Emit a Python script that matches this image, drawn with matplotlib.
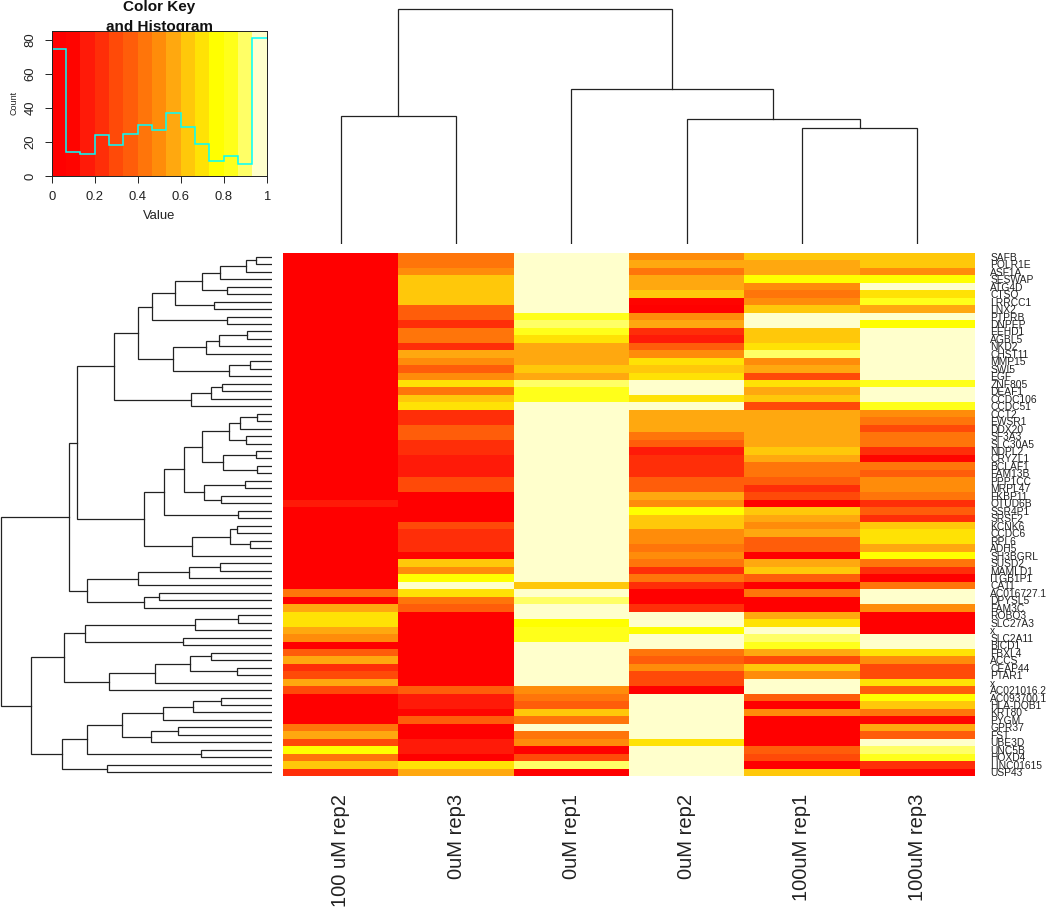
import numpy as np
import matplotlib
matplotlib.use('Agg')
import matplotlib.pyplot as plt
from matplotlib.colors import ListedColormap

plt.rcParams['font.family'] = ['Liberation Sans', 'DejaVu Sans']

# Colour levels of the key, low to high
heat_colors = ['#FF0000', '#FF0400', '#FF1A08', '#FF2E08', '#FF4A08',
               '#FF5D0A', '#FF750A', '#FF8C0A', '#FFA80F', '#FFC80A',
               '#FFE205', '#FFFF00', '#FFFF1A', '#FFFF66', '#FFFFCC']

# Histogram in the key, one count per colour bin
hist_counts = [75, 14, 13, 24, 18, 25, 30, 27, 37, 29, 19, 9, 12, 7, 81]

genes = ['SAFB', 'POLR1E', 'ASF1A', 'SESWAP', 'ATG4D', 'CTSO', 'LRRCC1', 'LNX2', 'PTPRB', 'DNPEP',
         'EEHD1', 'AGBL5', 'NKD2', 'CHST11', 'MMP15', 'SWI5', 'EGF', 'ZNF805', 'DEAF1', 'CCDC106',
         'CCDC51', 'CCT2', 'EWSR1', 'DDX20', 'SF3A3', 'SLC30A5', 'NDPL2', 'CRYZL1', 'BCLAF1', 'FAM13B',
         'PPP1CC', 'MRPL47', 'FKBP11', 'OTUD6B', 'SSR4P1', 'SRSF2', 'KCNK6', 'CCDC6', 'RPL6', 'ADH5',
         'SH3BGRL', 'SUSD2', 'MAMLD1', 'ITGB1P1', 'CA11', 'AC016727.1', 'DPYSL5', 'FAM3C', 'ROBO3', 'SLC27A3',
         'x', 'SLC2A11', 'BICD1', 'FBXL4', 'ACCS', 'CEAP44', 'PTAR1', 'x', 'AC021016.2', 'AC093700.1',
         'HLA-DQB1', 'KRT80', 'PYGM', 'GPR37', 'FST', 'UBE3D', 'UNC5B', 'HOXD4', 'LINC01615', 'USP43']

samples = ['100 uM rep2', '0uM rep3', '0uM rep1', '0uM rep2', '100uM rep1', '100uM rep3']

# Colour level of each gene per sample, same order as genes
col_100uM_rep2 = [0] * 33 + [2] + [0] * 11 + [6, 0, 8, 10, 10, 8, 7, 0, 5, 8, 3, 4, 8, 4,
                                              0, 0, 0, 0, 6, 8, 4, 11, 6, 9, 3]
col_0uM_rep3 = [6, 6, 7, 9, 9, 9, 9, 5, 5, 3, 6, 6, 3, 8, 7, 5, 7, 10, 6, 9, 10, 3, 3,
                5, 5, 3, 3, 2, 2, 2, 4, 4, 0, 0, 0, 0, 4, 3, 3, 3, 1, 9, 7, 11, 14, 10,
                6, 5, 0, 0, 0, 0, 0, 0, 0, 0, 0, 0, 5, 2, 2, 1, 5, 0, 0, 2, 2, 0, 10, 8]
col_0uM_rep1 = [14, 14, 14, 14, 14, 14, 14, 14, 12, 13, 12, 10, 8, 8, 8, 9, 8, 13, 12, 12,
                14, 14, 14, 14, 14, 14, 14, 14, 14, 14, 14, 14, 14, 14, 14, 14, 14, 14, 14, 14, 14, 14, 14, 14,
                9, 14, 13, 14, 14, 11, 12, 12, 14, 14, 14, 14, 14, 14,
                7, 6, 5, 9, 6, 14, 6, 7, 0, 4, 13, 0]
col_0uM_rep2 = [7, 8, 6, 8, 8, 9, 1, 0, 7, 8, 3, 2, 5, 7, 10, 9, 10, 14, 14, 10, 14, 8, 8,
                8, 6, 5, 2, 3, 3, 3, 5, 5, 8, 7, 11, 9, 9, 7, 7, 6, 7, 6, 3, 6, 3, 0,
                0, 3, 14, 14, 11, 14, 14, 6, 5, 7, 4, 4, 0, 14, 14, 14, 14, 14, 14, 10, 14, 14, 14, 14]
col_100uM_rep1 = [9, 8, 8, 11, 7, 6, 7, 9, 14, 14, 9, 9, 10, 13, 7, 8, 4, 10, 8, 9, 4, 8, 8,
                  8, 8, 8, 9, 8, 6, 6, 5, 3, 4, 0, 9, 8, 7, 8, 5, 5, 0, 8, 9, 5, 0, 6,
                  0, 0, 8, 10, 14, 13, 12, 8, 4, 9, 7, 14, 14, 5, 0, 7, 0, 0, 0, 0, 5, 4, 0, 9]
col_100uM_rep3 = [9, 9, 7, 11, 14, 10, 12, 8, 14, 11, 14, 14, 14, 14, 14, 14, 14, 12, 14, 14, 12, 7, 6,
                  4, 6, 6, 3, 1, 6, 5, 7, 7, 6, 3, 5, 3, 9, 10, 10, 8, 11, 6, 3, 0, 6, 14,
                  14, 7, 0, 0, 0, 14, 14, 10, 7, 4, 4, 10, 5, 11, 9, 6, 1, 8, 5, 14, 13, 12, 3, 0]

# Row tree: (child, child, height). Ids below 70 are genes, the rest earlier merges
row_links = [(0, 1, 16.0), (70, 2, 26.0), (71, 3, 52.0), (4, 5, 45.0), (72, 73, 69.7), (6, 7, 57.3),
             (74, 75, 97.0), (8, 9, 45.0), (76, 77, 120.0), (10, 11, 24.7), (79, 12, 52.7), (80, 13, 65.3),
             (14, 15, 21.3), (82, 16, 43.0), (81, 83, 98.3), (78, 84, 133.7), (17, 18, 49.7), (86, 19, 61.0),
             (87, 20, 81.0), (85, 88, 157.7), (21, 22, 14.7), (90, 23, 31.7), (24, 25, 26.0), (91, 92, 42.3),
             (26, 27, 15.7), (28, 29, 14.7), (94, 95, 48.3), (93, 96, 69.3), (30, 31, 26.3), (32, 33, 51.0),
             (98, 99, 68.0), (97, 100, 87.7), (34, 35, 33.7), (101, 102, 107.7), (36, 37, 35.0), (38, 39, 21.7),
             (104, 105, 41.7), (106, 40, 80.0), (103, 107, 128.0), (89, 108, 194.7), (41, 42, 51.7),
             (110, 43, 83.0), (111, 44, 133.3), (45, 46, 113.0), (113, 47, 127.7), (112, 114, 184.3),
             (109, 115, 202.7), (48, 49, 33.7), (117, 50, 76.7), (51, 52, 88.7), (118, 119, 186.7),
             (53, 54, 60.3), (55, 56, 35.0), (121, 122, 81.7), (123, 57, 116.7), (124, 58, 162.7),
             (120, 125, 207.7), (59, 60, 50.7), (127, 61, 79.0), (128, 62, 108.7), (63, 64, 94.0),
             (130, 65, 120.7), (129, 131, 149.7), (66, 67, 71.0), (132, 133, 184.3), (68, 69, 165.0),
             (134, 135, 209.7), (126, 136, 240.3), (116, 137, 270.3)]

# Column tree, same form
col_links = [(0, 1, 128.0), (4, 5, 116.0), (3, 7, 125.0), (2, 8, 155.0), (6, 9, 235.0)]


def tree_segments(links, n):
    # walk the merges in order and return one (pos, height) path per merge
    pos = list(np.arange(n) + 0.5)
    hgt = [0.0] * n
    paths = []
    for a, b, h in links:
        paths.append(([pos[a], pos[a], pos[b], pos[b]], [hgt[a], h, h, hgt[b]]))
        pos.append((pos[a] + pos[b]) / 2)
        hgt.append(h)
    return paths


W, H = 1050, 910


def px_axes(left, top, right, bottom):
    return fig.add_axes([left / W, 1 - bottom / H, (right - left) / W, (bottom - top) / H])


fig = plt.figure(figsize=(W / 100, H / 100), dpi=100)
cmap = ListedColormap(heat_colors)

# Heatmap
matrix = np.array([col_100uM_rep2, col_0uM_rep3, col_0uM_rep1,
                   col_0uM_rep2, col_100uM_rep1, col_100uM_rep3]).T
ax = px_axes(283, 253, 975, 776)
ax.pcolormesh(np.arange(7), np.arange(71), matrix, cmap=cmap, vmin=-0.5, vmax=14.5)
ax.set_xlim(0, 6)
ax.set_ylim(70, 0)
for s in ax.spines.values():
    s.set_visible(False)
ax.set_xticks(np.arange(6) + 0.5)
ax.set_xticklabels(samples, rotation=90, fontsize=14.5, color='#222222')
ax.set_yticks(np.arange(70) + 0.5)
ax.set_yticklabels(genes, fontsize=7.4, color='#222222')
ax.yaxis.tick_right()
ax.tick_params(axis='x', length=0, pad=13)
ax.tick_params(axis='y', length=0, pad=11)

# Row dendrogram
ax_row = px_axes(0, 253, 272, 776)
for p, h in tree_segments(row_links, 70):
    ax_row.plot(h, p, color='#222222', lw=0.9, solid_joinstyle='miter')
ax_row.set_xlim(271.7, -0.3)
ax_row.set_ylim(70, 0)
ax_row.axis('off')

# Column dendrogram
ax_col = px_axes(283, 0, 975, 244)
for p, h in tree_segments(col_links, 6):
    ax_col.plot(p, h, color='#222222', lw=0.9, solid_joinstyle='miter')
ax_col.set_xlim(0, 6)
ax_col.set_ylim(0, 244)
ax_col.axis('off')

# Colour key with histogram
edges = np.linspace(0, 1, 16)
ax_key = px_axes(51.7, 30.7, 266.7, 176)
ax_key.pcolormesh(edges, [0, 86], np.arange(15).reshape(1, -1), cmap=cmap, vmin=-0.5, vmax=14.5)
ax_key.stairs(hist_counts, edges, baseline=None, color='cyan', lw=1.1)
ax_key.set_xlim(0, 1)
ax_key.set_ylim(0, 85.5)
ax_key.set_xticks([0, 0.2, 0.4, 0.6, 0.8, 1])
ax_key.set_xticklabels(['0', '0.2', '0.4', '0.6', '0.8', '1'], fontsize=9.4)
ax_key.set_yticks([0, 20, 40, 60, 80])
ax_key.set_yticklabels(['0', '20', '40', '60', '80'], fontsize=9.4, rotation=90, va='center')
ax_key.tick_params(length=5, width=0.7, pad=6, colors='#222222')
for s in ax_key.spines.values():
    s.set_linewidth(0.7)
    s.set_color('#222222')
ax_key.set_xlabel('Value', fontsize=9.4, color='#222222', labelpad=5)
ax_key.set_ylabel('Count', fontsize=6.5, color='#222222', labelpad=2)
ax_key.yaxis.set_label_coords(-0.155, 0.5)

# The key's box cuts the foot of the title, so it goes behind the axes
fig.text(159 / W, 1 - 7 / H, 'Color Key', fontsize=11, fontweight='bold',
         ha='center', va='center', color='#111111', zorder=-1)
fig.text(159 / W, 1 - 27 / H, 'and Histogram', fontsize=11, fontweight='bold',
         ha='center', va='center', color='#111111', zorder=-1)

fig.savefig('out.png', dpi=100)
